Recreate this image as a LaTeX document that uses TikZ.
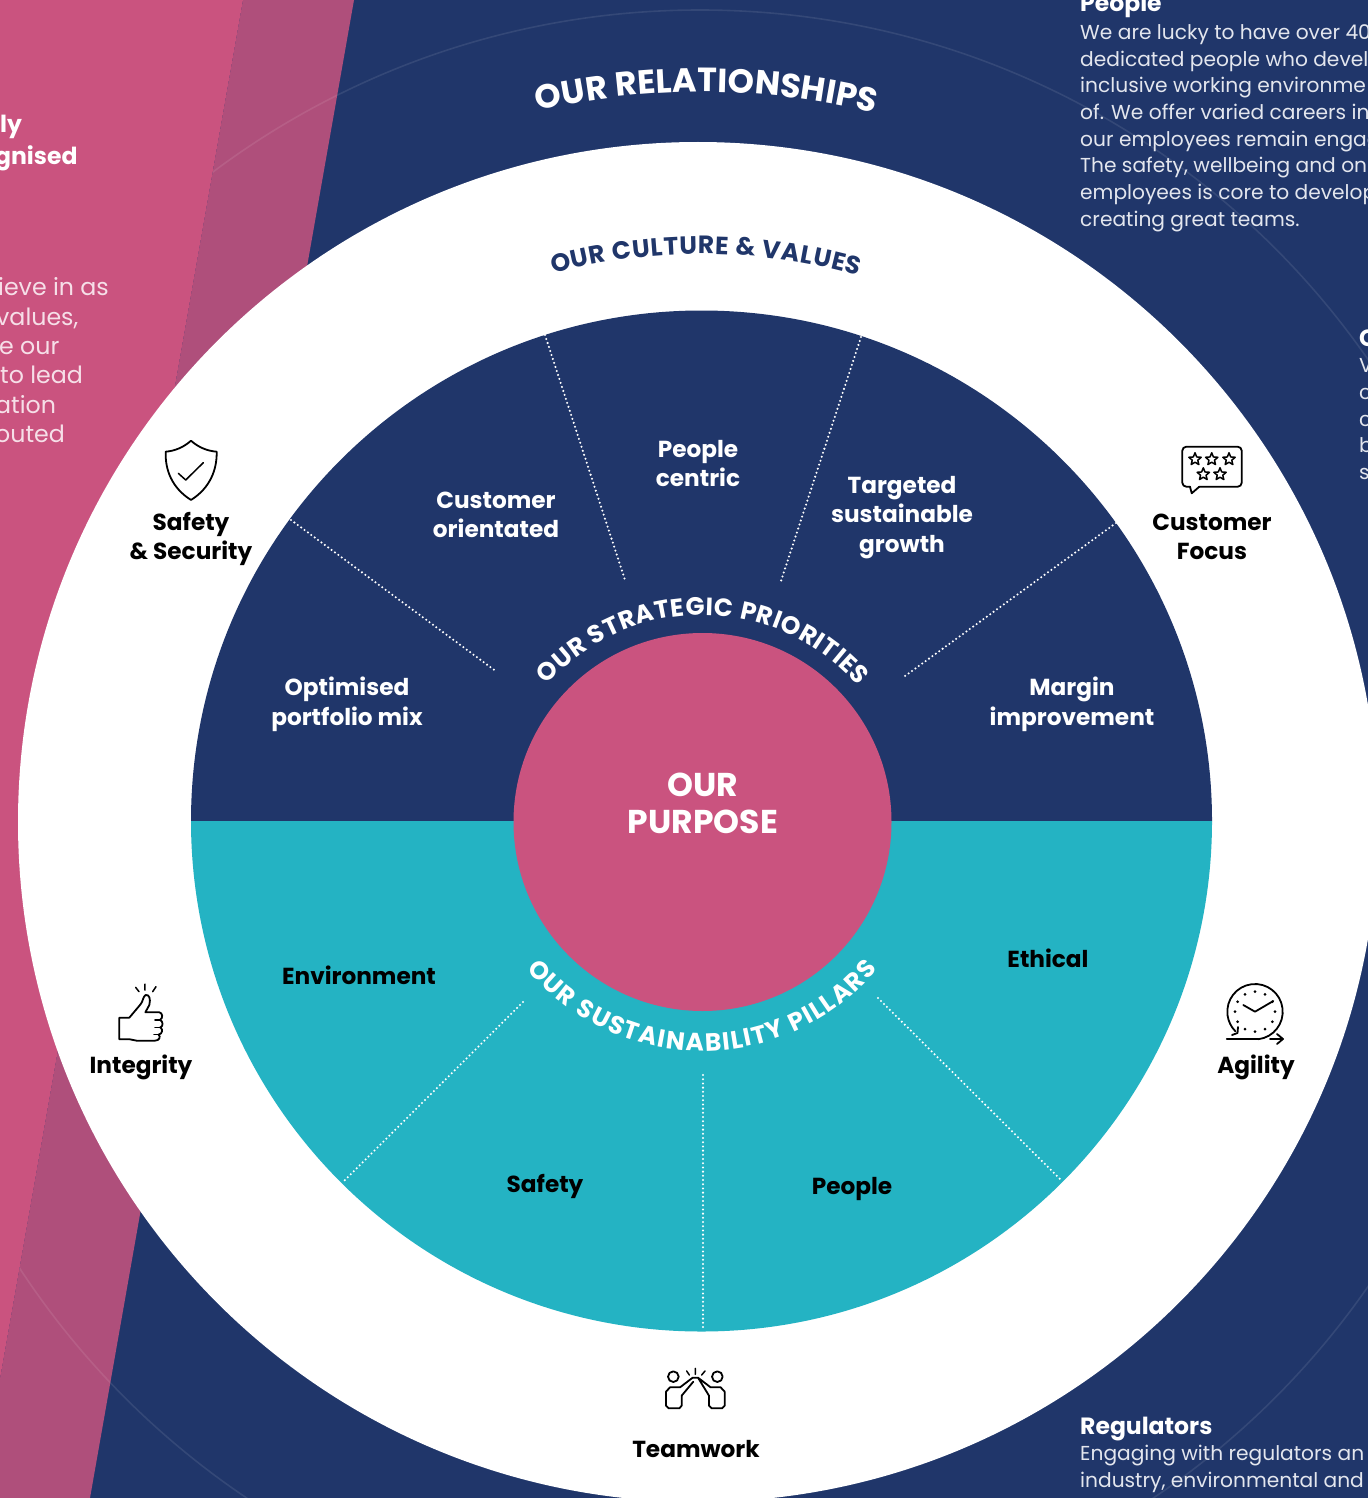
\documentclass[tikz,border=0pt]{standalone}
\usepackage{fontspec}
\usetikzlibrary{decorations.text}
\setmainfont{Poppins}
\definecolor{navy}{HTML}{20366A}
\definecolor{pinkb}{HTML}{CA537F}
\definecolor{purp}{HTML}{AF4F7B}
\definecolor{tealb}{HTML}{24B3C3}
\definecolor{body}{HTML}{E3E6EE}
\definecolor{bodyp}{HTML}{F6DFE8}
\newcommand{\fs}[1]{\fontsize{#1}{#1}\selectfont}
\newcommand{\iconstar}[2]{\draw[iconthin] (#1,-#2) +(90:6.5)--+(126:2.9)--+(162:6.5)--+(198:2.9)--+(234:6.5)--+(270:2.9)--+(306:6.5)--+(342:2.9)--+(18:6.5)--+(54:2.9)--cycle;}
\tikzset{
 x=1pt,y=1pt,
 lab/.style={align=center,inner sep=0pt,font=\fontsize{23.2}{29.7}\selectfont\bfseries},
 wlab/.style={lab,text=white},
 blab/.style={lab,text=black},
 para/.style={anchor=base west,inner sep=0pt,text=body,font=\fs{20.2}},
 parah/.style={anchor=base west,inner sep=0pt,text=white,font=\fs{23.5}\bfseries},
 pp/.style={anchor=base west,inner sep=0pt,text=bodyp,font=\fs{23.7}},
 pph/.style={anchor=base west,inner sep=0pt,text=white,font=\fs{23.5}\bfseries},
 dots/.style={draw=white,line width=2.3pt,line cap=round,dash pattern=on 0pt off 4.2pt},
 icon/.style={draw=black,line width=1.8pt,line join=round,line cap=round},
 iconthin/.style={draw=black,line width=1.5pt,line join=round,line cap=round},
}
\newcommand{\curvedtext}[6]{\path[decorate,decoration={text along path,text align=fit to path,text format delimiters={|}{|},text={|\fs{#5}\bfseries\color{#4}|#1}}] (702,-822) ++(#2:#3) arc[start angle=#2,end angle=#6,radius=#3];}
\begin{document}
\begin{tikzpicture}
\useasboundingbox (0,0) rectangle (1368,-1498);
\clip (0,0) rectangle (1368,-1498);
\fill[navy] (0,0) rectangle (1368,-1498);
\fill[purp] (243,0)--(354,0)--(90,-1498)--(-21,-1498)--cycle;
\draw[white,opacity=.09,line width=1.6pt] (700,-823) circle[radius=813];
\fill[pinkb] (-30,0)--(243,0)--(-21,-1498)--(-30,-1498)--cycle;
\fill[white] (698,-822) circle[radius=680];
\fill[navy] (191,-821) arc[start angle=180,end angle=0,radius=510.5]--cycle;
\fill[tealb] (191,-821) arc[start angle=180,end angle=360,radius=510.5]--cycle;
% dotted dividers
\coordinate (a1) at (545,-335); \coordinate (a2) at (625,-580);
\coordinate (b1) at (861,-337); \coordinate (b2) at (780,-584);
\coordinate (c1) at (291,-520); \coordinate (c2) at (497,-672);
\coordinate (d1) at (1116,-523); \coordinate (d2) at (905,-676);
\coordinate (e1) at (703,-1075); \coordinate (e2) at (703,-1330);
\coordinate (f1) at (523,-1002); \coordinate (f2) at (342,-1183);
\coordinate (g1) at (878,-998); \coordinate (g2) at (1061,-1180);
\foreach \p/\q in {a1/a2,b1/b2,c1/c2,d1/d2,e1/e2,f1/f2,g1/g2}{\draw[dots] (\p)--(\q);}
\fill[pinkb] (702.5,-822) circle[radius=189];
% curved headings
\curvedtext{OUR RELATIONSHIPS}{103}{730}{white}{33.5}{76.3}
\curvedtext{OUR CULTURE {\&} VALUES}{105.2}{568}{navy}{25}{74}
\curvedtext{OUR STRATEGIC PRIORITIES}{138.5}{207}{white}{25}{41}
\curvedtext{OUR SUSTAINABILITY PILLARS}{220}{229}{white}{25}{320}
% labels
\node[wlab] (n1) at (347,-704) {Optimised\\portfolio mix};
\node[wlab] (n2) at (496,-515) {Customer\\orientated};
\node[wlab] (n3) at (698,-463.5) {People\\centric};
\node[wlab] (n4) at (902,-517.5) {Targeted\\sustainable\\growth};
\node[wlab] (n5) at (1072,-704) {Margin\\improvement};
\node[blab] (s1) at (359,-975) {Environment};
\node[blab] (s2) at (1048,-958) {Ethical};
\node[blab] (s3) at (545,-1186) {Safety};
\node[blab] (s4) at (852,-1189) {People};
\node[wlab,font=\fontsize{33}{37}\selectfont\bfseries] (pur) at (703,-803.5) {OUR\\PURPOSE};
\node[blab] (v1) at (191,-539) {Safety\\\& Security};
\node[blab] (v2) at (1212,-537) {Customer\\Focus};
\node[blab] (v3) at (141,-1067) {Integrity};
\node[blab] (v4) at (1256,-1067) {Agility};
\node[blab] (v5) at (696,-1449) {Teamwork};
% side text
\node[pph] (t1) at (0,-133) {ly};
\node[pph] (t2) at (-5,-165) {gnised};
\node[pp] (t3) at (-2,-295) {ieve in as};
\node[pp] (t4) at (-4,-325) {values,};
\node[pp] (t5) at (-1,-354) {e our};
\node[pp] (t6) at (0,-383) {to lead};
\node[pp] (t7) at (-5,-413) {ation};
\node[pp] (t8) at (-5,-442) {outed};
\node[parah] (r0) at (1080,-12) {People};
\node[para] (r1) at (1080,-40) {We are lucky to have over 40};
\node[para] (r2) at (1080,-67) {dedicated people who devel};
\node[para] (r3) at (1080,-93) {inclusive working environme};
\node[para] (r4) at (1080,-120) {of. We offer varied careers in};
\node[para] (r5) at (1080,-147) {our employees remain engag};
\node[para] (r6) at (1080,-173) {The safety, wellbeing and on};
\node[para] (r7) at (1080,-200) {employees is core to develop};
\node[para] (r8) at (1080,-226) {creating great teams.};
\node[parah] (c0) at (1359,-346) {C};
\node[para] (c1t) at (1359,-372) {V};
\node[para] (c2t) at (1359,-399) {c};
\node[para] (c3t) at (1359,-426) {c};
\node[para] (c4t) at (1359,-452) {b};
\node[para] (c5t) at (1359,-479) {s};
\node[parah] (g0) at (1080,-1434) {Regulators};
\node[para] (g1t) at (1080,-1460) {Engaging with regulators an};
\node[para] (g2t) at (1080,-1487) {industry, environmental and};
% shield
\draw[icon] (191,-440.7) .. controls (184,-447) and (175,-451) .. (165.7,-451.7) .. controls (165,-470) and (172,-488) .. (191,-500) .. controls (210,-488) and (217,-470) .. (216.7,-451.7) .. controls (207,-451) and (198,-447) .. (191,-440.7)--cycle;
\draw[iconthin] (178.3,-473.3)--(185.7,-480)--(203.3,-462.7);
% bubble
\draw[icon,rounded corners=4pt] (1199.3,-486.7)--(1241.7,-486.7)--(1241.7,-446.7)--(1182.3,-446.7)--(1182.3,-486.7)--(1190,-486.7);
\draw[icon] (1190,-486.7)--(1191.7,-493.3)--(1199.3,-486.7);
\iconstar{1195}{459.3}\iconstar{1211.7}{459.3}\iconstar{1229}{459.3}\iconstar{1203.3}{474.3}\iconstar{1220}{474.3}
% thumb
\begin{scope}[shift={(80,-970)},x=.3333pt,y=-.3333pt]
\draw[icon] (118,143)--(148,143)--(180,105) .. controls (190,95) and (188,80) .. (197,75) .. controls (207,73) and (213,85) .. (208,105)--(196,127)--(238,127) .. controls (248,128) and (250,145) .. (240,150) .. controls (250,153) and (250,170) .. (241,172) .. controls (250,178) and (247,192) .. (236,194) .. controls (243,200) and (238,212) .. (225,212)--(170,212)--(150,208)--(118,208)--cycle;
\draw[iconthin] (167,52)--(177,65) (195,42)--(195,60) (228,50)--(218,65);
\draw[iconthin] (225,150)--(240,150) (225,172)--(241,172) (222,194)--(236,194);
\end{scope}
% clock
\draw[icon] (1255,-1011.7) ++(-83:27.7) arc[start angle=-83,end angle=225,radius=27.7];
\draw[icon] (1226.7,-1039)--(1258.5,-1039);
\draw[icon] (1270,-1039)--(1283,-1039) (1277,-1034)--(1283,-1039)--(1277,-1044);
\draw[icon] (1232,-1035)--(1237.5,-1033)--(1238,-1027);
\draw[icon] (1243.3,-1005)--(1255,-1011.7)--(1273.3,-1001);
\foreach \a in {0,30,...,330}{\fill (1255,-1011.7) ++(\a:20) circle[radius=1.5];}
% teamwork
\begin{scope}[shift={(630,-1355)},x=.3333pt,y=-.3333pt]
\draw[icon] (130,65) circle[radius=16];
\draw[icon] (262,65) circle[radius=16];
\draw[iconthin] (170,48)--(178,60) (196,40)--(196,58) (225,48)--(215,60);
\draw[icon] (155,122)--(155,152)--(148,160)--(116,160)--(108,152)--(108,110)--(120,97)--(150,97)--(188,68)--(204,68)--(237,122)--(237,152)--(245,160)--(276,160)--(284,152)--(284,110)--(272,97)--(242,97)--(204,68);
\draw[icon] (155,122)--(190,80);
\end{scope}
\end{tikzpicture}
\end{document}
